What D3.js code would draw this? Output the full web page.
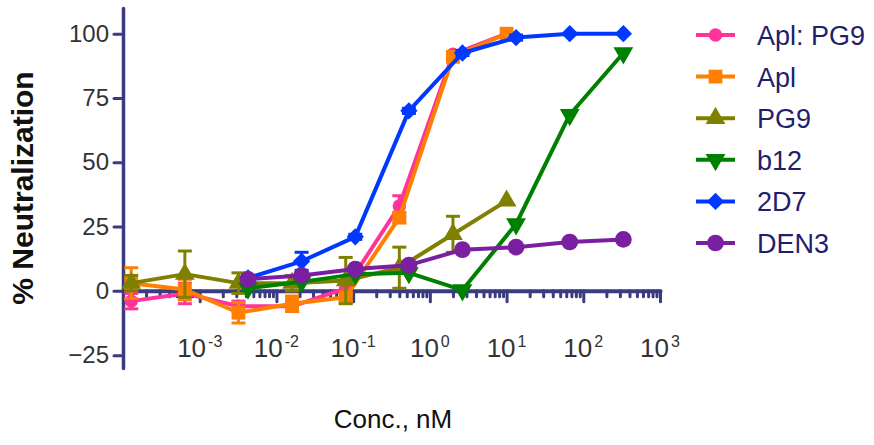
<!DOCTYPE html>
<html>
<head>
<meta charset="utf-8">
<script src="https://cdn.jsdelivr.net/npm/d3@7"></script>
<style>
  body { margin: 0; background: #fff; }
  svg { display: block; font-family: Arial, "Liberation Sans", sans-serif; }
</style>
</head>
<body>
<script>
// concentrations (nM), 5-fold dilutions
const concApl = [0.000128, 0.00064, 0.0032, 0.016, 0.08, 0.4, 2, 10];
const concAb = [0.00426, 0.0213, 0.1066, 0.533, 2.66, 13.3, 66.6, 333];

const seriesNames = ['Apl: PG9', 'Apl', 'PG9', 'b12', '2D7', 'DEN3'];
const aplPg9 = [-4, -1, -6, -6, 1, 33, 92, 100];
const aplPg9Err = [3, 4, 2, 2, 2, 4, 1, 0];
const apl = [3, 0.5, -8.5, -5, -2.5, 28.5, 91, 100];
const aplErr = [6, 4, 4, 3, 1.5, 2, 1, 0];
const pg9 = [3, 6.5, 3, 3, 4, 9, 22, 35];
const pg9Err = [3, 9, 4, 3, 9, 8, 7, 0];
const b12 = [1, 3.5, 6.5, 7, 0.3, 26, 68.5, 92.5];
const b12Err = [0, 0, 0, 0, 0, 0, 0, 0];
const d2d7 = [5, 11.5, 21, 70, 92.5, 98.5, 100, 100];
const d2d7Err = [1, 3.5, 1, 1, 1, 1, 0, 0];
const den3 = [4.5, 6, 8.5, 10, 16, 17, 19, 20];
const den3Err = [0, 0, 0, 0, 0, 0, 0, 0];

const yTicks = [-25, 0, 25, 50, 75, 100];
const xTickExps = [-3, -2, -1, 0, 1, 2, 3];

const width = 874, height = 445;
const axisColor = '#3b3b82';

const series = [
  {name: seriesNames[0], x: concApl, y: aplPg9, e: aplPg9Err, color: '#ff3399', sym: d3.symbolCircle, size: 140},
  {name: seriesNames[1], x: concApl, y: apl, e: aplErr, color: '#ff8000', sym: d3.symbolSquare, size: 190},
  {name: seriesNames[2], x: concApl, y: pg9, e: pg9Err, color: '#808000', sym: d3.symbolTriangle, size: 170, rot: 0},
  {name: seriesNames[3], x: concAb, y: b12, e: b12Err, color: '#008000', sym: d3.symbolTriangle, size: 170, rot: 180},
  {name: seriesNames[4], x: concAb, y: d2d7, e: d2d7Err, color: '#0038ff', sym: d3.symbolSquare, size: 150, rot: 45},
  {name: seriesNames[5], x: concAb, y: den3, e: den3Err, color: '#7b1fa2', sym: d3.symbolCircle, size: 220}
];

const x = d3.scaleLog().domain([1e-4, 1e3]).range([123, 660]);
const y = d3.scaleLinear().domain([-30, 110]).range([368, 8]);

const svg = d3.select('body').append('svg')
  .attr('width', width).attr('height', height);

// y axis
const yAxis = svg.append('g')
  .attr('transform', `translate(${x(1e-4)},0)`)
  .call(d3.axisLeft(y).tickValues(yTicks).tickSize(9).tickSizeOuter(0).tickPadding(5));
yAxis.select('.domain').attr('stroke', axisColor).attr('stroke-width', 3.5).attr('stroke-linecap', 'round');
yAxis.selectAll('.tick line').attr('stroke', axisColor).attr('stroke-width', 3).attr('stroke-linecap', 'round');
yAxis.selectAll('.tick text').attr('font-size', 24).attr('fill', '#333');

// x axis drawn at y = 0
const minorTicks = [];
for (let e = -4; e < 3; e++) for (let m = 1; m < 10; m++) minorTicks.push(m * Math.pow(10, e));
minorTicks.push(1e3);

const xAxis = svg.append('g')
  .attr('transform', `translate(0,${y(0)})`)
  .call(d3.axisBottom(x).tickValues(minorTicks).tickFormat('').tickSizeOuter(0));
xAxis.select('.domain').attr('stroke', axisColor).attr('stroke-width', 4).attr('stroke-linecap', 'round');
xAxis.selectAll('.tick line')
  .attr('stroke', axisColor).attr('stroke-width', 3).attr('stroke-linecap', 'round')
  .attr('y2', d => Math.abs(Math.log10(d) - Math.round(Math.log10(d))) < 1e-9 ? 11 : 6);

// x tick labels (10^n) below the plot
const xLab = svg.append('g').selectAll('text')
  .data(xTickExps).enter().append('text')
  .attr('x', d => x(Math.pow(10, d)))
  .attr('y', 357)
  .attr('text-anchor', 'middle')
  .attr('fill', '#333')
  .attr('font-size', 26);
xLab.append('tspan').text('10');
xLab.append('tspan').attr('dy', -10).attr('dx', 2).attr('font-size', 16).text(d => d);

// axis titles
svg.append('text')
  .attr('transform', `translate(33,${y(40)}) rotate(-90)`)
  .attr('text-anchor', 'middle')
  .attr('font-size', 30).attr('font-weight', 'bold').attr('fill', '#111')
  .text('% Neutralization');

svg.append('text')
  .attr('x', 393).attr('y', 428)
  .attr('text-anchor', 'middle')
  .attr('font-size', 26).attr('fill', '#111')
  .text('Conc., nM');

// series
const line = d3.line().x(d => x(d[0])).y(d => y(d[1]));

series.forEach(s => {
  const pts = s.x.map((c, i) => [c, s.y[i], s.e[i]]);
  const g = svg.append('g');

  // error bars
  const eb = g.selectAll('.eb').data(pts.filter(p => p[2] > 0)).enter().append('g');
  eb.append('line')
    .attr('x1', d => x(d[0])).attr('x2', d => x(d[0]))
    .attr('y1', d => y(d[1] - d[2])).attr('y2', d => y(d[1] + d[2]))
    .attr('stroke', s.color).attr('stroke-width', 3);
  [-1, 1].forEach(sign => {
    eb.append('line')
      .attr('x1', d => x(d[0]) - 7).attr('x2', d => x(d[0]) + 7)
      .attr('y1', d => y(d[1] + sign * d[2])).attr('y2', d => y(d[1] + sign * d[2]))
      .attr('stroke', s.color).attr('stroke-width', 3);
  });

  g.append('path').datum(pts)
    .attr('d', line)
    .attr('fill', 'none').attr('stroke', s.color).attr('stroke-width', 4)
    .attr('stroke-linejoin', 'round');

  g.selectAll('.m').data(pts).enter().append('path')
    .attr('d', d3.symbol().type(s.sym).size(s.size))
    .attr('transform', d => `translate(${x(d[0])},${y(d[1])}) rotate(${s.rot || 0})`)
    .attr('fill', s.color);
});

// legend
const leg = svg.append('g').selectAll('g')
  .data(series).enter().append('g')
  .attr('transform', (d, i) => `translate(696,${35 + i * 41.6})`);
leg.append('line')
  .attr('x1', 0).attr('x2', 39).attr('y1', 0).attr('y2', 0)
  .attr('stroke', d => d.color).attr('stroke-width', 4);
leg.append('path')
  .attr('d', d => d3.symbol().type(d.sym).size(d.size)())
  .attr('transform', d => `translate(19.5,0) rotate(${d.rot || 0})`)
  .attr('fill', d => d.color);
leg.append('text')
  .attr('x', 61).attr('y', 10)
  .attr('font-size', 27).attr('fill', '#1f1f6e')
  .text(d => d.name);
</script>
</body>
</html>
